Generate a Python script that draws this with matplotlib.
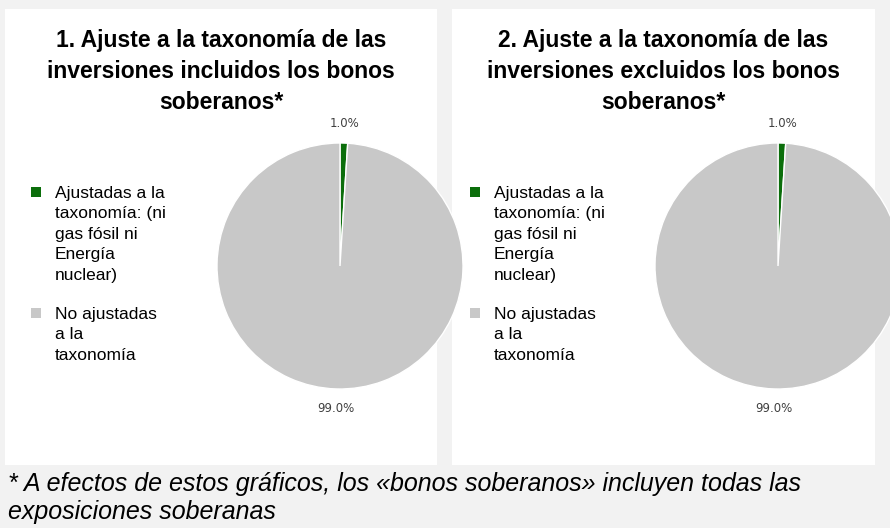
import matplotlib
matplotlib.use("Agg")
import matplotlib.pyplot as plt
from matplotlib.patches import Rectangle

# data
titles = [
    "1. Ajuste a la taxonomía de las\ninversiones incluidos los bonos\nsoberanos*",
    "2. Ajuste a la taxonomía de las\ninversiones excluidos los bonos\nsoberanos*",
]
categories = [
    "Ajustadas a la\ntaxonomía: (ni\ngas fósil ni\nEnergía\nnuclear)",
    "No ajustadas\na la\ntaxonomía",
]
values_incl = [1.0, 99.0]
values_excl = [1.0, 99.0]
colors = ["#0b6e0b", "#c8c8c8"]
footnote = ("* A efectos de estos gráficos, los «bonos soberanos» incluyen todas las\n"
            "exposiciones soberanas")

W, H = 890, 528
fig = plt.figure(figsize=(W / 100, H / 100), dpi=100, facecolor="#f2f2f2")


def fx(x):
    return x / W


def fy(y):
    return 1 - y / H


def panel(x0, y0, x1, y1):
    fig.patches.append(Rectangle((fx(x0), fy(y1)), fx(x1 - x0), (y1 - y0) / H,
                                 transform=fig.transFigure, facecolor="white",
                                 edgecolor="none", zorder=-5))


panels = [(5, 9, 437, 465), (452, 9, 875, 465)]
pie_centers = [(340, 266), (778, 266)]
radius = 123
legend_x = [31, 470]

for i, vals in enumerate([values_incl, values_excl]):
    x0, y0, x1, y1 = panels[i]
    panel(x0, y0, x1, y1)
    fig.text(fx((x0 + x1) / 2), fy(29), titles[i], ha="center", va="top",
             fontsize=16.5, fontweight="bold", family="Liberation Sans",
             linespacing=1.45, color="black")

    cx, cy = pie_centers[i]
    ax = fig.add_axes([fx(cx - radius), fy(cy + radius), 2 * radius / W, 2 * radius / H])
    ax.set_zorder(2)
    wedges, texts = ax.pie(vals, colors=colors, startangle=90, counterclock=False,
                           autopct="%1.1f%%", pctdistance=1.16,
                           wedgeprops=dict(edgecolor="white", linewidth=1),
                           textprops=dict(fontsize=8.5, color="#404040"))[:2]
    ax.set_xlim(-1, 1)
    ax.set_ylim(-1, 1)
    ax.set_aspect("equal")
    ax.axis("off")
    for t in ax.texts:
        t.set_clip_on(False)
    for w in wedges:
        w.set_clip_on(False)

    # legend
    lx = legend_x[i]
    for ly, cat, col in zip([187, 308], categories, colors):
        fig.patches.append(Rectangle((fx(lx), fy(ly + 10)), fx(10), 10 / H,
                                     transform=fig.transFigure, facecolor=col,
                                     edgecolor="none", zorder=3))
        fig.text(fx(lx + 24), fy(ly - 1), cat, ha="left", va="top", fontsize=12.5,
                 family="Liberation Sans", linespacing=1.45, color="black")

fig.text(fx(8), fy(472), footnote, ha="left", va="top", fontsize=18,
         style="italic", family="Liberation Sans", linespacing=1.22, color="black")

fig.savefig("out.png", dpi=100, facecolor=fig.get_facecolor())
